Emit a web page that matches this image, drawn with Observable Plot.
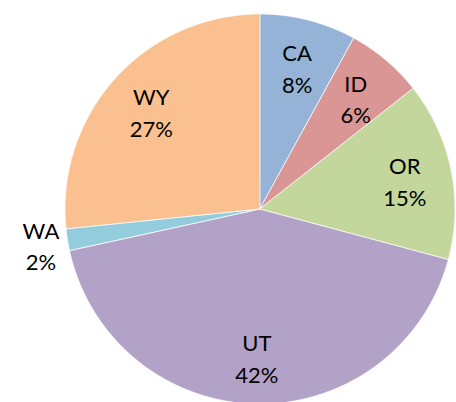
<!DOCTYPE html>
<html>
<head>
<meta charset="utf-8">
<script src="https://cdn.jsdelivr.net/npm/d3@7"></script>
<script src="https://cdn.jsdelivr.net/npm/@observablehq/plot@0.6"></script>
<style>
  html, body { margin: 0; padding: 0; background: #fff; }
</style>
</head>
<body>
<div id="chart"></div>
<script>
const states = ["CA", "ID", "OR", "UT", "WA", "WY"];
const shares = [8.0, 6.4, 14.8, 42.4, 1.8, 26.6];
const colors = ["#95B3D7", "#D99694", "#C3D69B", "#B3A2C7", "#93CDDD", "#FAC090"];

const W = 456, H = 402, cx = 260, cy = 209, R = 195;

const arcs = d3.pie().sort(null).value(d => d)(shares);

const wedgePoints = [];
const labels = [];
arcs.forEach((a, i) => {
  const n = Math.max(2, Math.ceil((a.endAngle - a.startAngle) / (Math.PI / 720)));
  for (let k = 0; k <= n; k++) {
    const t = a.startAngle + (a.endAngle - a.startAngle) * k / n;
    wedgePoints.push({state: states[i], color: colors[i], u: Math.sin(t), v: Math.cos(t)});
  }
  const mid = (a.startAngle + a.endAngle) / 2;
  const r = shares[i] < 3 ? 1.14 : 0.755;
  labels.push({
    u: r * Math.sin(mid),
    v: r * Math.cos(mid),
    text: states[i] + "\n" + Math.round(shares[i]) + "%"
  });
});

const chart = Plot.plot({
  width: W,
  height: H,
  margin: 0,
  x: {domain: [-cx / R, (W - cx) / R], axis: null},
  y: {domain: [-(H - cy) / R, cy / R], axis: null},
  color: {type: "identity"},
  style: {fontFamily: "Lato, 'Open Sans', sans-serif", background: "white"},
  marks: [
    Plot.area(wedgePoints, {
      x1: 0, y1: 0, x2: "u", y2: "v",
      z: "state", fill: "color",
      stroke: "white", strokeWidth: 0.75, strokeLinejoin: "round"
    }),
    Plot.text(labels, {
      x: "u", y: "v", text: "text",
      fontSize: 22, lineHeight: 1.45, lineAnchor: "middle",
      fill: "black", textAnchor: "middle"
    })
  ]
});
document.getElementById("chart").appendChild(chart);
</script>
</body>
</html>
